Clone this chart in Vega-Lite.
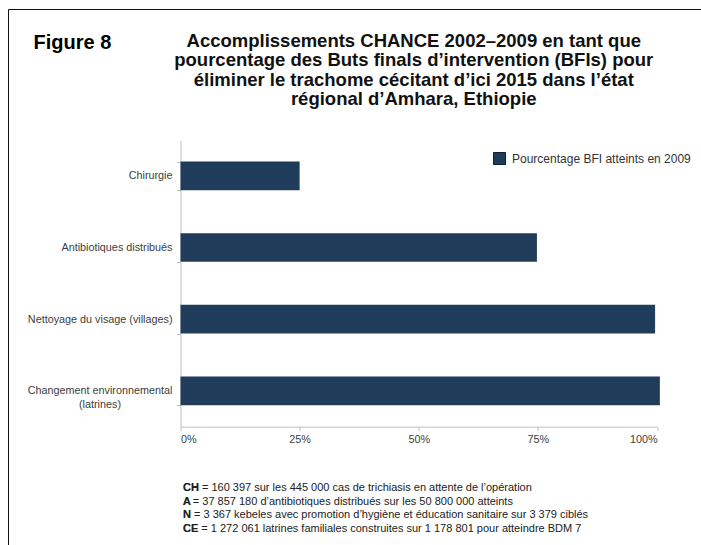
{
  "$schema": "https://vega.github.io/schema/vega-lite/v6.json",
  "width": 476.5,
  "height": 286.7,
  "autosize": {"type": "none"},
  "padding": {"left": 180.5, "top": 140, "right": 44, "bottom": 118.3},
  "background": "white",
  "config": {"view": {"stroke": null}, "font": "Liberation Sans"},
  "title": {
    "text": [
      "Accomplissements CHANCE 2002–2009 en tant que",
      "pourcentage des Buts finals d’intervention (BFIs) pour",
      "éliminer le trachome cécitant d’ici 2015 dans l’état",
      "régional d’Amhara, Ethiopie"
    ],
    "font": "Liberation Sans",
    "fontSize": 18.5,
    "fontWeight": "bold",
    "color": "#111111",
    "lineHeight": 19.3,
    "anchor": "middle",
    "frame": "group",
    "offset": 0,
    "dy": 100,
    "dx": -5
  },
  "data": {
    "values": [
      {"cat": "Chirurgie", "pct": 0.25},
      {"cat": "Antibiotiques distribués", "pct": 0.748},
      {"cat": "Nettoyage du visage (villages)", "pct": 0.996},
      {"cat": "Changement environnemental (latrines)", "pct": 1.006}
    ]
  },
  "encoding": {
    "y": {
      "field": "cat",
      "type": "nominal",
      "sort": null,
      "scale": {"paddingInner": 0.6, "paddingOuter": 0.3},
      "axis": {
        "title": "Figure 8",
        "titleAngle": 0,
        "titleAlign": "left",
        "titleBaseline": "alphabetic",
        "titleX": -147.5,
        "titleY": -92,
        "titleFont": "Liberation Sans",
        "titleFontSize": 20,
        "titleFontWeight": "bold",
        "titleColor": "#000000",
        "tickBand": "extent",
        "tickSize": 4,
        "tickColor": "#bfbfbf",
        "domainColor": "#bfbfbf",
        "grid": false,
        "labelFont": "Liberation Sans",
        "labelFontSize": 10.8,
        "labelColor": "#404040",
        "labelLimit": 300,
        "labelLineHeight": 14,
        "labelExpr": "datum.value == 'Changement environnemental (latrines)' ? ['Changement environnemental', '(latrines)'] : datum.value",
        "labelAlign": {"condition": {"test": "datum.value == 'Changement environnemental (latrines)'", "value": "center"}, "value": "right"},
        "labelPadding": {"condition": {"test": "datum.value == 'Changement environnemental (latrines)'", "value": 77}, "value": 4.5}
      }
    }
  },
  "layer": [
    {
      "mark": {"type": "bar", "color": "#1f3d5b"},
      "encoding": {
        "x": {
          "field": "pct",
          "type": "quantitative",
          "scale": {"domain": [0, 1], "nice": false},
          "axis": {
            "values": [0, 0.25, 0.5, 0.75, 1],
            "format": ".0%",
            "grid": false,
            "tickSize": 4,
            "tickColor": "#bfbfbf",
            "domainColor": "#bfbfbf",
            "labelFont": "Liberation Sans",
            "labelFontSize": 10.8,
            "labelColor": "#404040",
            "labelPadding": 3,
            "title": [
              "CH = 160 397 sur les 445 000 cas de trichiasis en attente de l’opération",
              "A = 37 857 180 d’antibiotiques distribués sur les 50 800 000 atteints",
              "N = 3 367 kebeles avec promotion d’hygiène et éducation sanitaire sur 3 379 ciblés",
              "CE = 1 272 061 latrines familiales construites sur 1 178 801 pour atteindre BDM 7"
            ],
            "titleFont": "Liberation Sans",
            "titleFontSize": 11,
            "titleFontWeight": "normal",
            "titleColor": "#222222",
            "titleAlign": "left",
            "titleBaseline": "top",
            "titleX": 2,
            "titleY": 55,
            "titleLineHeight": 13.5
          }
        },
        "color": {
          "datum": "Pourcentage BFI atteints en 2009",
          "type": "nominal",
          "scale": {"range": ["#1f3d5b"]},
          "legend": {
            "title": null,
            "orient": "none",
            "legendX": 312.5,
            "legendY": 12,
            "padding": 0,
            "symbolType": "square",
            "symbolSize": 144,
            "symbolStrokeColor": "#0d1f30",
            "symbolStrokeWidth": 1,
            "labelFont": "Liberation Sans",
            "labelFontSize": 12,
            "labelColor": "#333333",
            "labelOffset": 6,
            "labelLimit": 300
          }
        }
      }
    },
    {
      "mark": {"type": "point", "opacity": 0},
      "encoding": {
        "x": {
          "field": "pct",
          "type": "quantitative",
          "axis": {
            "orient": "top",
            "labels": false,
            "ticks": false,
            "domain": false,
            "grid": false,
            "title": ["CH", "A", "N", "CE"],
            "titleFont": "Liberation Sans",
            "titleFontSize": 11,
            "titleFontWeight": "bold",
            "titleColor": "#222222",
            "titleAlign": "left",
            "titleBaseline": "top",
            "titleX": 2,
            "titleY": 341.7,
            "titleLineHeight": 13.5
          }
        },
        "shape": {
          "datum": "cadre",
          "type": "nominal",
          "legend": {
            "title": null,
            "orient": "none",
            "legendX": -172.5,
            "legendY": -131,
            "padding": 420,
            "strokeColor": "#111111",
            "symbolOpacity": 0,
            "symbolSize": 0,
            "labelExpr": "''",
            "encode": {"legend": {"update": {"strokeWidth": {"value": 2}}}}
          }
        }
      }
    }
  ],
  "resolve": {"axis": {"x": "independent"}}
}
